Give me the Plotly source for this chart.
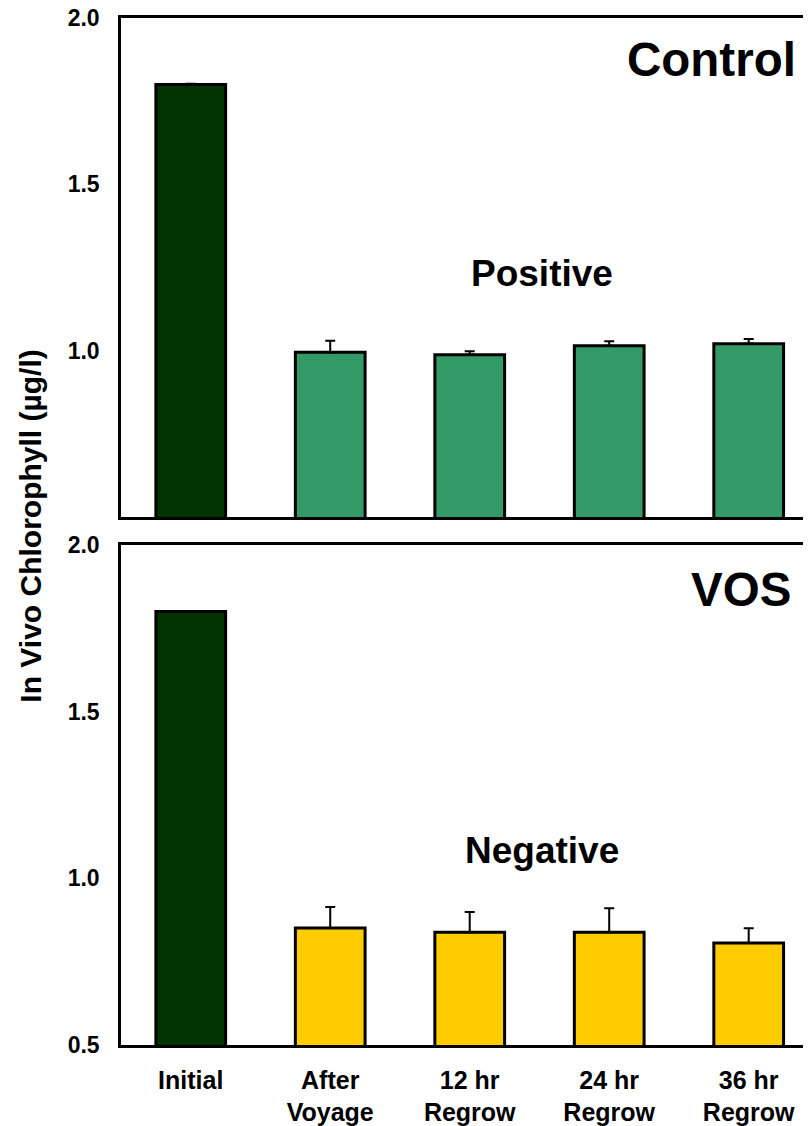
import plotly.graph_objects as go

categories = ["Initial", "After<br>Voyage", "12 hr<br>Regrow", "24 hr<br>Regrow", "36 hr<br>Regrow"]
control_values = [1.80, 0.995, 0.988, 1.015, 1.021]
control_errors = [0.002, 0.035, 0.010, 0.013, 0.014]
vos_values = [1.80, 0.851, 0.838, 0.838, 0.806]
vos_errors = [0.002, 0.063, 0.061, 0.072, 0.044]
initial_color = "#003300"
control_color = "#339966"
vos_color = "#FFCC00"
top_ticks = [1.0, 1.5, 2.0]
bottom_ticks = [0.5, 1.0, 1.5, 2.0]

FONT = "Arial, 'Liberation Sans', sans-serif"

def colors(c):
    return [initial_color] + [c] * (len(categories) - 1)

fig = go.Figure()
fig.add_trace(go.Bar(
    x=categories, y=control_values, xaxis="x2", yaxis="y2", width=0.5,
    marker=dict(color=colors(control_color), line=dict(color="black", width=3)),
    error_y=dict(type="data", array=control_errors, arrayminus=[0] * 5, symmetric=False,
                 color="black", thickness=2, width=5),
    showlegend=False,
))
fig.add_trace(go.Bar(
    x=categories, y=vos_values, xaxis="x", yaxis="y", width=0.5,
    marker=dict(color=colors(vos_color), line=dict(color="black", width=3)),
    error_y=dict(type="data", array=vos_errors, arrayminus=[0] * 5, symmetric=False,
                 color="black", thickness=2, width=5),
    showlegend=False,
))

xr = [-0.5, 4.504]
axis_common = dict(showline=True, linecolor="black", linewidth=2.5, showgrid=False, zeroline=False)
ytickfont = dict(size=23, family=FONT, weight="bold", color="black")
fig.update_layout(
    width=811, height=1126,
    margin=dict(l=113, r=0, t=10, b=89, autoexpand=False),
    paper_bgcolor="white", plot_bgcolor="white",
    font=dict(family=FONT, color="black"),
    xaxis=dict(domain=[0, 1], anchor="y", type="category", range=xr, mirror=True,
               tickfont=dict(size=25, family=FONT, weight="bold", color="black"),
               ticks="", ticklabelstandoff=11, automargin=False, ticklabeloverflow="allow",
               **axis_common),
    yaxis=dict(domain=[0, 0.4869], anchor="x", range=[0.5, 2.0], tickvals=bottom_ticks,
               ticktext=[f"{v:.1f}" for v in bottom_ticks], tickfont=ytickfont,
               ticks="", ticklabelstandoff=14, automargin=False, ticklabeloverflow="allow",
               **axis_common),
    xaxis2=dict(domain=[0, 1], anchor="y2", type="category", range=xr, mirror=True,
                showticklabels=False, ticks="", automargin=False, **axis_common),
    yaxis2=dict(domain=[0.5141, 1], anchor="x2", range=[0.5, 2.0], tickvals=top_ticks,
                ticktext=[f"{v:.1f}" for v in top_ticks], tickfont=ytickfont,
                ticks="", ticklabelstandoff=14, automargin=False, ticklabeloverflow="allow",
                **axis_common),
)

def ann(text, x, y, size, xanchor="center"):
    fig.add_annotation(text=f"<b>{text}</b>", x=x, y=y, xref="paper", yref="paper",
                       xanchor=xanchor, yanchor="middle", showarrow=False,
                       font=dict(size=size, family=FONT, color="black"))

ann("Control", 0.970, 0.960, 47.5, "right")
ann("VOS", 0.963, 0.444, 47.5, "right")
ann("Positive", 0.603, 0.751, 37)
ann("Negative", 0.603, 0.189, 37)
fig.add_annotation(text="<b>In Vivo Chlorophyll (µg/l)</b>", x=-0.13, y=0.505,
                   xref="paper", yref="paper", textangle=-90, showarrow=False,
                   xanchor="center", yanchor="middle",
                   font=dict(size=30, family=FONT, color="black"))

fig.write_html("out.html")
